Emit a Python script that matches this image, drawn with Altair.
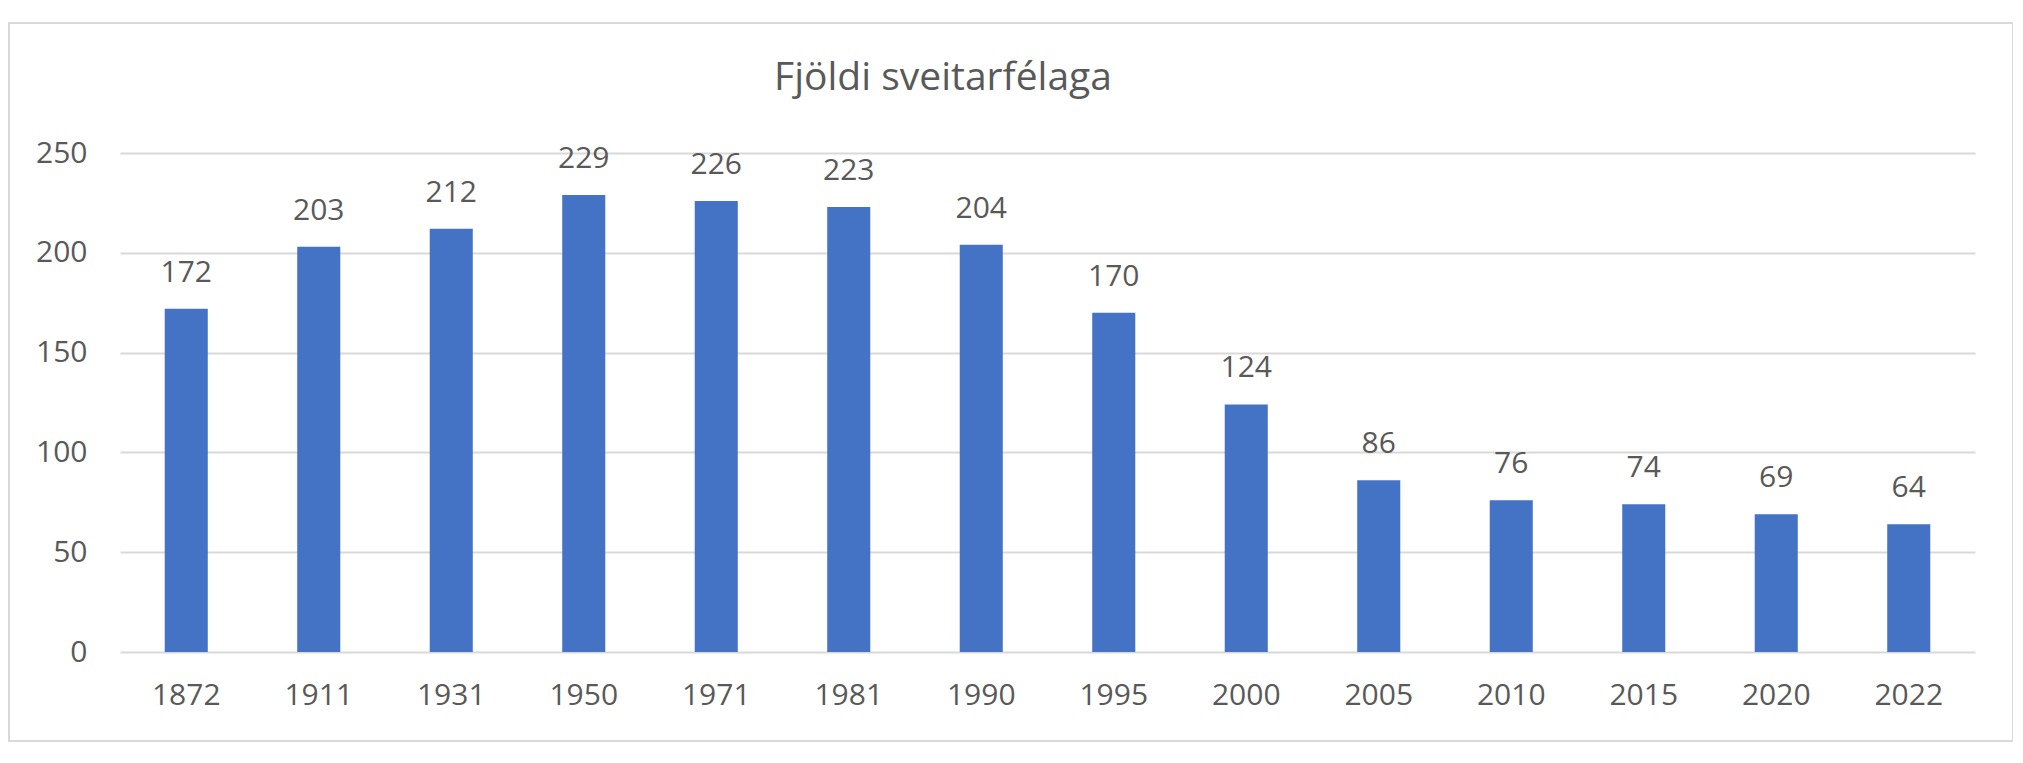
import altair as alt
import pandas as pd

years = ["1872", "1911", "1931", "1950", "1971", "1981", "1990",
         "1995", "2000", "2005", "2010", "2015", "2020", "2022"]
counts = [172, 203, 212, 229, 226, 223, 204, 170, 124, 86, 76, 74, 69, 64]
title_text = ["Fjöldi sveitarfélaga"]
y_ticks = [0, 50, 100, 150, 200, 250]

df = pd.DataFrame({"year": years, "count": counts})
title_df = pd.DataFrame({"t": title_text})
frame_df = pd.DataFrame({"f": [0]})

W, H = 1855, 499
FONT = "Open Sans"
TXT = "#595959"
GRID = "#D9D9D9"
BAR = "#4472C4"

x = alt.X(
    "year:N", sort=years,
    scale=alt.Scale(paddingInner=0.675, paddingOuter=0.3375),
    axis=alt.Axis(title=None, labelAngle=0, domain=False, ticks=False, tickSize=0,
                  labelPadding=28, labelFontSize=30, labelColor=TXT, labelFont=FONT,
                  grid=False),
)
y = alt.Y(
    "count:Q",
    scale=alt.Scale(domain=[0, 250], nice=False),
    axis=alt.Axis(title=None, values=y_ticks, domain=False, ticks=False, tickSize=0,
                  labelPadding=33, labelFontSize=30, labelColor=TXT, labelFont=FONT,
                  grid=True, gridColor=GRID, gridWidth=2),
)

bars = alt.Chart(df).mark_bar(color=BAR).encode(x=x, y=y)

labels = alt.Chart(df).mark_text(
    fontSize=30, font=FONT, color=TXT, baseline="alphabetic", align="center", dy=-27
).encode(x=alt.X("year:N", sort=years), y="count:Q", text="count:Q")

frame = alt.Chart(frame_df).mark_rect(
    fillOpacity=0, stroke=GRID, strokeWidth=2
).encode(
    x=alt.value(-111), x2=alt.value(1893), y=alt.value(-130), y2=alt.value(588)
)

title = alt.Chart(title_df).mark_text(
    fontSize=39, font=FONT, color=TXT, baseline="alphabetic", align="center"
).encode(x=alt.value(823), y=alt.value(-63), text="t:N")

chart = alt.layer(frame, bars, labels, title).properties(
    width=W, height=H,
    padding={"left": 112, "top": 145, "right": 38, "bottom": 100},
    autosize=alt.AutoSizeParams(type="none"),
    background="white",
).configure_view(strokeWidth=0)

chart.save("out.html", embed_options={"renderer": "svg", "actions": False})
